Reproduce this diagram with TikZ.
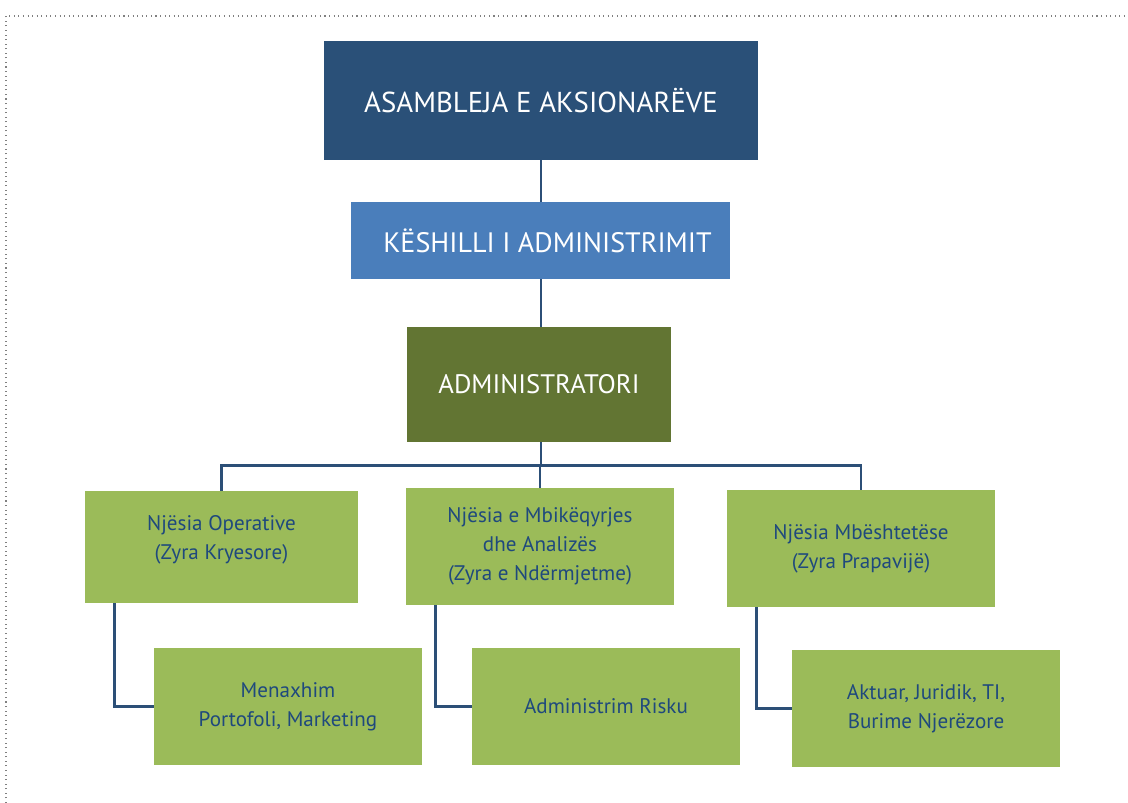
\documentclass[tikz,border=0pt]{standalone}
\usepackage{fontspec}
\setmainfont{PT Sans}
\definecolor{darkbox}{HTML}{2A5078}
\definecolor{midbox}{HTML}{4A7EBB}
\definecolor{olivebox}{HTML}{627533}
\definecolor{greenbox}{HTML}{9BBB59}
\definecolor{inkblue}{HTML}{1F497D}
\definecolor{edgeblue}{HTML}{2C4F77}

\begin{document}
\begin{tikzpicture}[x = 0.02cm, y = -0.02cm,
                   every node/.style = {shape         = rectangle,
                                        inner sep     = 0pt,
                                        align         = center},
                   top box/.style    = {fill          = #1,
                                        text          = white,
                                        font          = \fontsize{16.4}{20}\selectfont},
                   unit box/.style   = {fill          = greenbox,
                                        text          = inkblue,
                                        minimum width = 268*0.02cm,
                                        font          = \fontsize{12}{16.5}\selectfont},
                   blue edge/.style  = { -,
                                        line width    = 1.4pt,
                                        edgeblue}]

\useasboundingbox (0,0) rectangle (1128,803);
\draw[gray, dotted, line width=0.6pt] (6,803) -- (6,16) -- (1128,16);

% the nodes : top of the chart
\node[top box=darkbox, minimum width=434*0.02cm, minimum height=119*0.02cm]
   (0;0) at (541,100.5) {ASAMBLEJA E AKSIONARËVE};
  \node[top box=midbox, minimum width=379*0.02cm, minimum height=77*0.02cm,
        font=\fontsize{16}{20}\selectfont]
     (1;0) at (540.5,240.5) {\hspace*{8pt}KËSHILLI I ADMINISTRIMIT};
    \node[top box=olivebox, minimum width=264*0.02cm, minimum height=115*0.02cm,
          font=\fontsize{15.2}{18}\selectfont]
       (2;0) at (539,384.5) {ADMINISTRATORI};

% the units
\node[unit box, minimum width=273*0.02cm, minimum height=112*0.02cm]
   (3;-1) at (221.5,547) {Njësia Operative\\ (Zyra Kryesore)\\[-6pt]};
\node[unit box, minimum height=117*0.02cm]
   (3;0)  at (540,546.5) {Njësia e Mbikëqyrjes\\ dhe Analizës\\ (Zyra e Ndërmjetme)};
\node[unit box, minimum height=117*0.02cm]
   (3;1)  at (861,548.5) {Njësia Mbështetëse\\ (Zyra Prapavijë)};
  \node[unit box, minimum height=117*0.02cm]
     (4;-1) at (288,706.5) {Menaxhim\\ Portofoli, Marketing};
  \node[unit box, minimum height=117*0.02cm]
     (4;0)  at (606,706.5) {Administrim Risku};
  \node[unit box, minimum height=117*0.02cm]
     (4;1)  at (926,708.5) {Aktuar, Juridik, TI,\\ Burime Njerëzore};

% edges
\draw[blue edge] (0;0.south) -- (0;0.south |- 1;0.north);
\draw[blue edge] (0;0.south |- 1;0.south) -- (0;0.south |- 2;0.north);
\foreach \j in {-1,...,1}
  { \draw[blue edge] (0;0.south |- 2;0.south) -- ++(0,23) -| (3;\j.north); }
\foreach \j in {-1,...,1}
  { \draw[blue edge] ([xshift=0.6cm]3;\j.south west) |- (4;\j.west); }
\end{tikzpicture}
\end{document}
